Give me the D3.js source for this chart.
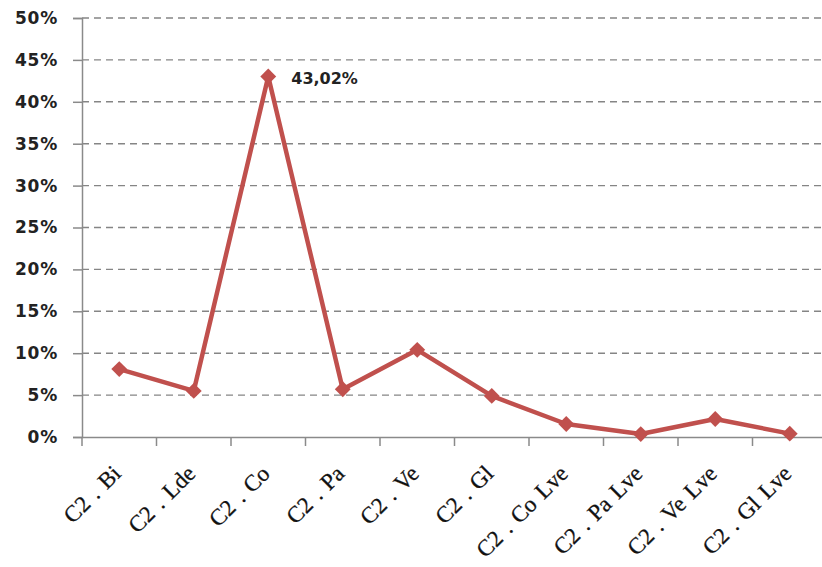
<!DOCTYPE html>
<html><head><meta charset="utf-8">
<script src="https://cdn.jsdelivr.net/npm/d3@7"></script>
<style>body{margin:0;background:#fff}svg{display:block}</style>
</head><body>
<svg id="c" width="822" height="567"></svg>
<script>
const categories = ["C2 . Bi","C2 . Lde","C2 . Co","C2 . Pa","C2 . Ve","C2 . Gl","C2 . Co Lve","C2 . Pa Lve","C2 . Ve Lve","C2 . Gl Lve"];
const values = [8.1, 5.5, 43.02, 5.7, 10.4, 4.9, 1.55, 0.35, 2.15, 0.4];
const yTicks = [0,5,10,15,20,25,30,35,40,45,50];
const annotation = {index: 2, text: "43,02%"};

(function(){
const svg = d3.select("#c");
const mLeft = 82, mRight = 827, mTop = 18, mBottom = 437;
const x = d3.scaleBand().domain(categories).range([mLeft, mRight]);
const y = d3.scaleLinear().domain([0, 50]).range([mBottom, mTop]);

// gridlines
svg.append("g").selectAll("line").data(yTicks.filter(d => d > 0)).join("line")
  .attr("x1", mLeft).attr("x2", 822).attr("y1", d => y(d)).attr("y2", d => y(d))
  .attr("stroke", "#858585").attr("stroke-width", 1.4).attr("stroke-dasharray", "7,5");

// y axis
const ya = svg.append("g").attr("transform", `translate(${mLeft},0)`)
  .call(d3.axisLeft(y).tickValues(yTicks).tickSize(9).tickPadding(15).tickFormat(d => d + "%"));
ya.select(".domain").attr("stroke", "#8a8a8a").attr("stroke-width", 1.5);
ya.selectAll(".tick line").attr("stroke", "#8a8a8a").attr("stroke-width", 1.5);
ya.selectAll("text").attr("font-family", "Tahoma, 'DejaVu Sans', sans-serif").attr("font-weight", "bold")
  .attr("font-size", 17).attr("letter-spacing", 0.8).attr("fill", "#222");

// x axis
const xa = svg.append("g").attr("transform", `translate(0,${mBottom})`)
  .call(d3.axisBottom(x).tickSize(0).tickFormat(""));
xa.select(".domain").attr("stroke", "#8a8a8a").attr("stroke-width", 1.5);
const bounds = categories.map(c => x(c)).concat([mRight]);
svg.append("g").selectAll("line").data(bounds).join("line")
  .attr("x1", d => d).attr("x2", d => d).attr("y1", mBottom).attr("y2", mBottom + 9)
  .attr("stroke", "#8a8a8a").attr("stroke-width", 1.5);

svg.append("g").selectAll("text").data(categories).join("text")
  .attr("transform", d => `translate(${x(d) + x.bandwidth()/2 + 3},${mBottom + 38}) rotate(-45)`)
  .attr("text-anchor", "end")
  .attr("font-family", "'Liberation Serif', 'Times New Roman', serif")
  .attr("font-size", 23).attr("word-spacing", 2).attr("fill", "#111").attr("stroke", "#111").attr("stroke-width", 0.3)
  .text(d => d);

// line
const cx = (d, i) => x(categories[i]) + x.bandwidth()/2;
svg.append("path").datum(values)
  .attr("d", d3.line().x(cx).y(d => y(d)))
  .attr("fill", "none").attr("stroke", "#C0504D").attr("stroke-width", 4.5).attr("stroke-linejoin", "round");

svg.append("g").selectAll("path").data(values).join("path")
  .attr("d", d3.symbol(d3.symbolDiamond2, 160)())
  .attr("transform", (d, i) => `translate(${cx(d, i)},${y(d)})`)
  .attr("fill", "#C0504D");

// annotation
svg.append("text")
  .attr("x", cx(null, annotation.index) + 23).attr("y", y(values[annotation.index]) + 8)
  .attr("font-family", "Tahoma, 'DejaVu Sans', sans-serif").attr("font-weight", "bold")
  .attr("font-size", 16).attr("fill", "#222").text(annotation.text);
})();
</script>
</body></html>
